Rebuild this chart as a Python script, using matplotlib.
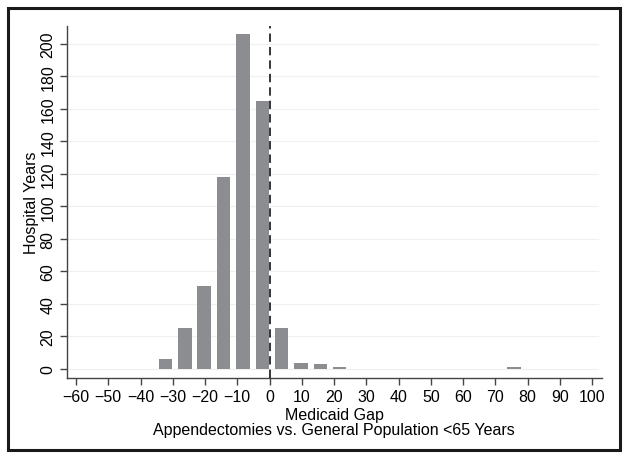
import matplotlib.pyplot as plt
import matplotlib.patches as patches
import numpy as np

plt.rcParams['font.family'] = ['Liberation Sans', 'DejaVu Sans']

# Histogram data: bin centers (Medicaid gap) and counts (hospital years)
bin_centers = [-32.25, -26.25, -20.25, -14.25, -8.25, -2.25, 3.75, 9.75, 15.75, 21.75, 75.75]
counts = [6, 25, 51, 118, 206, 165, 25, 4, 3, 1, 1]
x_ticks = list(range(-60, 101, 10))
y_ticks = list(range(0, 201, 20))

fig = plt.figure(figsize=(6.29, 4.6), dpi=100)
ax = fig.add_axes([66.7 / 629, 1 - 379.3 / 460, 535 / 629, 352.6 / 460])

ax.bar(bin_centers, counts, width=4.2, color='#8b8d90', zorder=2)
ax.axvline(0, color='black', linestyle=(0, (5.5, 3.3)), linewidth=1.1, zorder=3)

ax.set_xlim(-62.9, 103)
ax.set_ylim(-5.7, 211)
ax.set_xticks(x_ticks)
ax.set_xticklabels([f'\u2212{-t}' if t < 0 else str(t) for t in x_ticks])
ax.set_yticks(y_ticks)
ax.set_yticklabels([str(t) for t in y_ticks], rotation=90, va='center')

for t in y_ticks:
    ax.plot([-62.9, 102], [t, t], color='#f0f0f0', linewidth=0.9, zorder=1)

for s in ['top', 'right']:
    ax.spines[s].set_visible(False)
for s in ['left', 'bottom']:
    ax.spines[s].set_color('#444444')
    ax.spines[s].set_linewidth(1.0)
ax.tick_params(axis='both', direction='out', length=5, width=1.0, color='#444444',
               labelsize=11.5, pad=3)

ax.set_ylabel('Hospital Years', fontsize=11.5, labelpad=1)
ax.set_xlabel('Medicaid Gap\nAppendectomies vs. General Population <65 Years',
              fontsize=11.5, labelpad=2, linespacing=1.0)

# outer frame
fig.patches.append(patches.Rectangle((8 / 629, 1 - 451 / 460), 612 / 629, 442 / 460,
                                     transform=fig.transFigure, fill=False,
                                     edgecolor='#1a1a1a', linewidth=2.2))

fig.savefig('out.png', dpi=100)
